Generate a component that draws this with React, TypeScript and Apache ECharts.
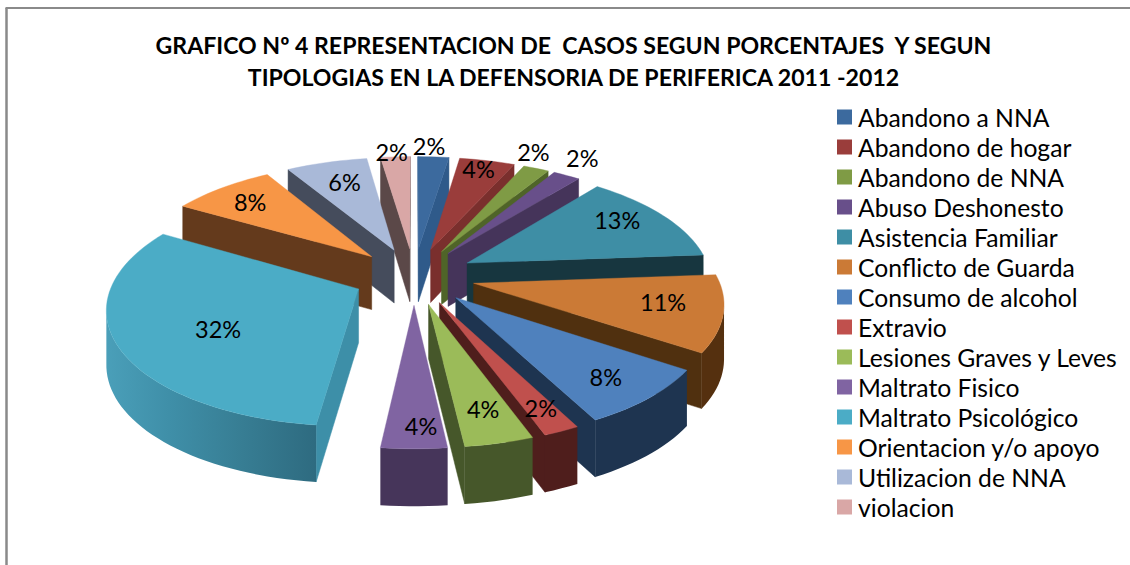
import React, { useEffect, useRef } from "react";
import * as echarts from "echarts";

const titleLines = [
  "GRAFICO Nº 4 REPRESENTACION DE  CASOS SEGUN PORCENTAJES  Y SEGUN",
  "TIPOLOGIAS EN LA DEFENSORIA DE PERIFERICA 2011 -2012",
];
const categories = [
  "Abandono a NNA",
  "Abandono de hogar",
  "Abandono de NNA",
  "Abuso Deshonesto",
  "Asistencia Familiar",
  "Conflicto de Guarda",
  "Consumo de alcohol",
  "Extravio",
  "Lesiones Graves y Leves",
  "Maltrato Fisico",
  "Maltrato Psicológico",
  "Orientacion y/o apoyo",
  "Utilizacion de NNA",
  "violacion",
];
const percentages = [2.4, 4.3, 2.0, 2.1, 13.0, 10.6, 8.0, 2.0, 3.8, 3.6, 31.6, 8.0, 6.3, 2.3];

const topColors = ["#3c6a9e", "#9a3d3b", "#7f9b45", "#684f8a", "#3e8ea5", "#cb7a36", "#4f81bd", "#c0504d", "#9bbb59", "#8064a2", "#4bacc6", "#f79646", "#a9b9d8", "#d9a7a6"];
const wallColors = ["#2f5a8a", "#7a2f2d", "#4f6428", "#45345a", "#17363f", "#50300f", "#1e3450", "#4f1e1c", "#46572a", "#46355a", "#3d8fa8", "#643a1c", "#454c5c", "#5b4848"];
const arcColors = ["#2f5a8a", "#7a2f2d", "#4f6428", "#45345a", "#17363f", "#55300f", "#1e3450", "#4f1e1c", "#46572a", "#46355a", "#34788f", "#643a1c", "#454c5c", "#5b4848"];
const labelReach = [1.12, 0.85, 1.1, 1.16, 0.75, 0.77, 0.82, 0.88, 0.81, 0.9, 0.7, 0.76, 0.71, 0.98];
const labelNudge = [[-6, -1], [-1, -4], [-11, -9], [-1, -6], [1, -7], [-1, -5], [-5, -1], [-4, -6], [-1, -4], [7, -6], [25, 2], [-5, -1], [0, -4], [-4, -6]];

const FONT = "Lato, 'Open Sans', sans-serif";
const CX = 414, CY = 276, RX = 244, RY = 113, PERSPECTIVE = 0.146, EXPLODE = 0.25;

const total = percentages.reduce((a, b) => a + b, 0);
const angles: { a: number; b: number; mid: number }[] = [];
{
  let cum = 0;
  for (const v of percentages) {
    const a = (cum / total) * Math.PI * 2;
    cum += v;
    const b = (cum / total) * Math.PI * 2;
    angles.push({ a, b, mid: (a + b) / 2 });
  }
}

function project(u: number, w: number, down = false): number[] {
  const s = 1 / (1 - PERSPECTIVE * w);
  return [CX + u * RX * s, CY + w * RY * s + (down ? 53.5 + 3.2 * w : 0)];
}

function renderSlice(i: number) {
  const { a, b, mid } = angles[i];
  const tu = EXPLODE * Math.sin(mid);
  const tw = -EXPLODE * Math.cos(mid);
  const steps = Math.max(2, Math.ceil((b - a) / (Math.PI / 90)));
  const rim: number[][] = [[tu, tw]];
  for (let k = 0; k <= steps; k++) {
    const t = a + ((b - a) * k) / steps;
    rim.push([tu + Math.sin(t), tw - Math.cos(t)]);
  }
  const children: any[] = [];
  const wall = (path: number[][], fill: any, stroke: string) => {
    const tops = path.map((p) => project(p[0], p[1]));
    const bottoms = path.map((p) => project(p[0], p[1], true)).reverse();
    children.push({
      type: "polygon",
      shape: { points: [...tops, ...bottoms] },
      style: { fill, stroke, lineWidth: 0.5 },
    });
  };
  const facing = (p: number[], q: number[]) => project(q[0], q[1])[0] < project(p[0], p[1])[0];
  if (facing(rim[0], rim[1])) wall([rim[0], rim[1]], wallColors[i], wallColors[i]);
  if (facing(rim[rim.length - 1], rim[0])) wall([rim[rim.length - 1], rim[0]], wallColors[i], wallColors[i]);
  const run: number[][] = [];
  for (let k = 1; k < rim.length - 1; k++) {
    if (facing(rim[k], rim[k + 1])) {
      if (!run.length) run.push(rim[k]);
      run.push(rim[k + 1]);
    }
  }
  if (run.length) {
    const fill =
      i === 10
        ? new echarts.graphic.LinearGradient(1, 0, 0, 0, [
            { offset: 0, color: "#2e6b80" },
            { offset: 0.35, color: "#377d93" },
            { offset: 0.7, color: "#3f8fa8" },
            { offset: 1, color: "#4a9fb9" },
          ])
        : arcColors[i];
    wall(run, fill, "none");
  }
  children.push({
    type: "polygon",
    shape: { points: rim.map((p) => project(p[0], p[1])) },
    style: { fill: topColors[i], stroke: topColors[i], lineWidth: 0.4 },
  });
  return { type: "group", children };
}

function renderLabel(params: any) {
  const i = params.dataIndex;
  const { mid } = angles[i];
  const f = labelReach[i];
  const [x, y] = project(
    EXPLODE * Math.sin(mid) + f * Math.sin(mid),
    -EXPLODE * Math.cos(mid) - f * Math.cos(mid)
  );
  return {
    type: "text",
    style: {
      x: x + labelNudge[i][0],
      y: y + labelNudge[i][1],
      text: `${Math.round(percentages[i])}%`,
      fill: "#000",
      font: `23.5px ${FONT}`,
      align: "center",
      verticalAlign: "middle",
    },
  };
}

const depthOrder = categories
  .map((_, i) => i)
  .sort((p, q) => -Math.cos(angles[p].mid) - -Math.cos(angles[q].mid));

export default function App() {
  const ref = useRef<HTMLDivElement>(null);
  useEffect(() => {
    const chart = echarts.init(ref.current!, undefined, { renderer: "svg" });
    chart.setOption({
      animation: false,
      backgroundColor: "#fff",
      title: {
        text: titleLines.join("\n"),
        left: 568.5,
        top: 24,
        textAlign: "center",
        textStyle: { fontFamily: FONT, fontWeight: "bold", fontSize: 23.1, lineHeight: 32, color: "#000" },
      },
      legend: {
        orient: "vertical",
        left: 837,
        top: 104.5,
        padding: 0,
        icon: "rect",
        itemWidth: 15,
        itemHeight: 15,
        itemGap: 5,
        data: categories,
        selectedMode: false,
        textStyle: { fontFamily: FONT, fontSize: 24.7, color: "#000", padding: [0, 0, 0, 1], lineHeight: 24, height: 24 },
      },
      graphic: [
        { type: "line", shape: { x1: 6.5, y1: 8, x2: 6.5, y2: 565 }, style: { stroke: "#8a8a8a", lineWidth: 2.5 } },
        { type: "line", shape: { x1: 5.5, y1: 8, x2: 1130, y2: 8 }, style: { stroke: "#8a8a8a", lineWidth: 2 } },
      ],
      series: [
        ...categories.map((name, i) => ({
          type: "custom",
          name,
          coordinateSystem: "none",
          silent: true,
          z: 2 + depthOrder.indexOf(i),
          itemStyle: { color: topColors[i] },
          data: [[percentages[i]]],
          renderItem: () => renderSlice(i),
        })),
        {
          type: "custom",
          name: "Porcentajes",
          coordinateSystem: "none",
          silent: true,
          z: 40,
          data: percentages.map((v) => [v]),
          renderItem: renderLabel,
        },
      ],
    });
    return () => chart.dispose();
  }, []);
  return <div ref={ref} style={{ position: "absolute", left: 0, top: 0, width: 1130, height: 565 }} />;
}
